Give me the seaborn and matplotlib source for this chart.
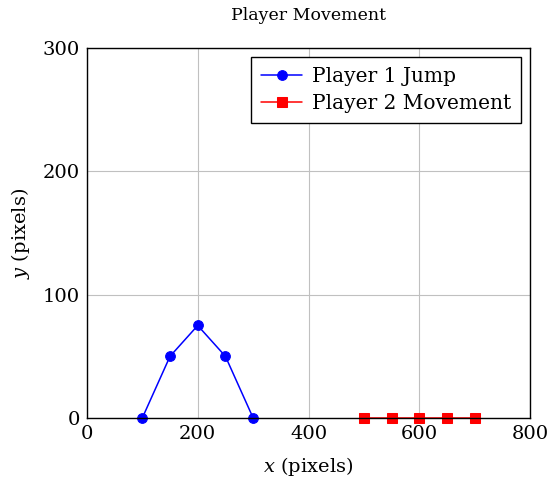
import matplotlib
matplotlib.use("Agg")
import matplotlib.pyplot as plt
import seaborn as sns
import pandas as pd

p1_x = [100, 150, 200, 250, 300]
p1_y = [0, 50, 75, 50, 0]
p2_x = [500, 550, 600, 650, 700]
p2_y = [0, 0, 0, 0, 0]
x_ticks = [0, 200, 400, 600, 800]
y_ticks = [0, 100, 200, 300]

sns.set_theme(style="whitegrid")
plt.rcParams['font.family'] = ['DejaVu Serif']
plt.rcParams['text.color'] = 'black'
plt.rcParams['mathtext.fontset'] = 'custom'
plt.rcParams['mathtext.it'] = 'DejaVu Serif:italic'
plt.rcParams['mathtext.rm'] = 'DejaVu Serif'

fig = plt.figure(figsize=(5.5, 4.86), dpi=100)
ax = fig.add_axes([0.158, 0.140, 0.806, 0.761])

df1 = pd.DataFrame({"x": p1_x, "y": p1_y})
df2 = pd.DataFrame({"x": p2_x, "y": p2_y})
sns.lineplot(data=df1, x="x", y="y", ax=ax, color="blue", marker="o", markersize=7,
             markeredgecolor="blue", linewidth=1.1, label="Player 1 Jump", clip_on=False)
sns.lineplot(data=df2, x="x", y="y", ax=ax, color="red", marker="s", markersize=7,
             markeredgecolor="red", linewidth=1.1, label="Player 2 Movement", clip_on=False)

ax.set_xlim(0, 800)
ax.set_ylim(0, 300)
ax.set_xticks(x_ticks)
ax.set_yticks(y_ticks)
ax.tick_params(labelsize=14, colors="black", length=0, pad=5)
ax.grid(True, color="#c0c0c0", linewidth=0.8)
for s in ax.spines.values():
    s.set_color("black")
    s.set_linewidth(1.0)
ax.set_facecolor("white")
ax.set_xlabel(r"$x$ (pixels)", fontsize=14, color="black", labelpad=9)
ax.set_ylabel(r"$y$ (pixels)", fontsize=14, color="black", labelpad=8)
ax.set_title("Player Movement", fontsize=12.5, color="black", pad=20)

leg = ax.legend(loc="upper right", fontsize=14.5, frameon=True, fancybox=False,
                edgecolor="black", framealpha=1, borderpad=0.5, labelspacing=0.4,
                handlelength=2.0, handletextpad=0.5, borderaxespad=0.45)
leg.get_frame().set_linewidth(1.0)
for t in leg.get_texts():
    t.set_color("black")

fig.savefig("out.png", dpi=100)
